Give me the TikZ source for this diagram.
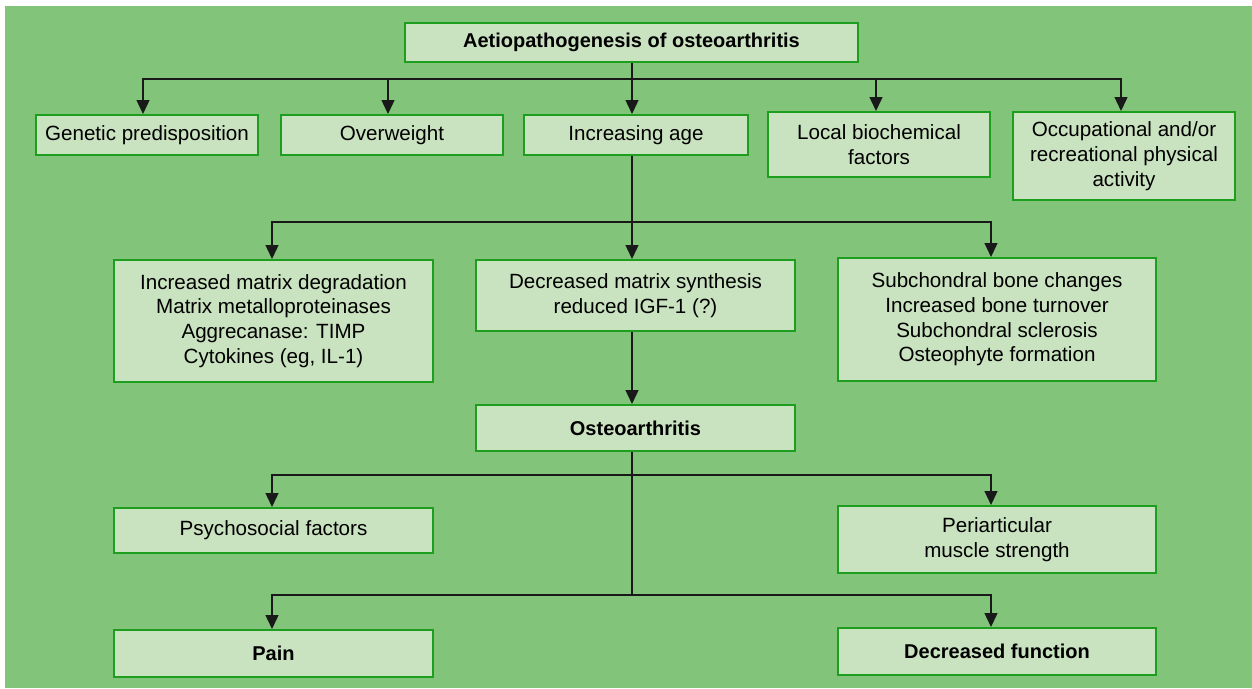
\documentclass[tikz,border=0pt]{standalone}
\usepackage{fontspec}
\setmainfont{Liberation Sans}
\usetikzlibrary{arrows.meta}
\definecolor{bggreen}{HTML}{82C47A}
\definecolor{boxfill}{HTML}{C9E2BF}
\definecolor{boxline}{HTML}{1E9E1E}
\tikzset{
  box/.style={draw=boxline, line width=2pt, fill=boxfill, inner sep=0pt,
    align=center, font=\fontsize{20.6}{24.7}\selectfont, text=black},
  btitle/.style={box, font=\fontsize{20}{24.7}\selectfont\bfseries},
  conn/.style={line width=1.4pt, black!90},
  arr/.style={conn, -{Triangle[width=13pt,length=14pt]}}
}
\begin{document}
\begin{tikzpicture}[x=1pt,y=-1pt]
\useasboundingbox (0,0) rectangle (1252,688);
\fill[white] (0,0) rectangle (1252,688);
\fill[bggreen] (5,6) rectangle (1252,688);
% boxes: center (x,y), width, height
\node[btitle, minimum width=453pt, minimum height=39pt] (title) at (631.5,42.5) {Aetiopathogenesis of osteoarthritis};
\node[box, minimum width=222pt, minimum height=40pt] (gen) at (147,135) {Genetic predisposition};
\node[box, minimum width=222pt, minimum height=40pt] (ovw) at (392,135) {Overweight};
\node[box, minimum width=224pt, minimum height=40pt] (age) at (636,135) {Increasing age};
\node[box, minimum width=222pt, minimum height=65pt] (loc) at (879,144.5) {Local biochemical\\factors};
\node[box, minimum width=222pt, minimum height=88pt] (occ) at (1124,156) {Occupational and/or\\recreational physical\\activity};
\node[box, minimum width=319pt, minimum height=122pt] (deg) at (273.5,321) {Increased matrix degradation\\Matrix metalloproteinases\\Aggrecanase: TIMP\\Cytokines (eg, IL-1)};
\node[box, minimum width=319pt, minimum height=71pt] (syn) at (635.5,295.5) {Decreased matrix synthesis\\reduced IGF-1 (?)};
\node[box, minimum width=318pt, minimum height=123pt] (sub) at (997,319.5) {Subchondral bone changes\\Increased bone turnover\\Subchondral sclerosis\\Osteophyte formation};
\node[btitle, minimum width=319pt, minimum height=46pt] (oa) at (635.5,428) {Osteoarthritis};
\node[box, minimum width=319pt, minimum height=45pt] (psy) at (273.5,530.5) {Psychosocial factors};
\node[box, minimum width=318pt, minimum height=67pt] (per) at (997,539.5) {Periarticular\\muscle strength};
\node[btitle, minimum width=319pt, minimum height=47pt] (pain) at (273.5,653.5) {Pain};
\node[btitle, minimum width=318pt, minimum height=47pt] (fun) at (997,651.5) {Decreased function};
% junctions
\coordinate (j1) at (632,79);
\coordinate (j2) at (632,222);
\coordinate (j3) at (632,475);
\coordinate (j4) at (632,595);
% connectors
\draw[conn] (title.south -| j1) -- (j1);
\draw[arr] (j1) -| ([xshift=-4pt]gen.north);
\draw[arr] (j1) -| ([xshift=-4pt]ovw.north);
\draw[arr] (j1) -- (age.north -| j1);
\draw[arr] (j1) -| ([xshift=-3pt]loc.north);
\draw[arr] (j1) -| ([xshift=-3pt]occ.north);
\draw[conn] (age.south -| j2) -- (j2);
\draw[arr] (j2) -| ([xshift=-1.5pt]deg.north);
\draw[arr] (j2) -- (syn.north -| j2);
\draw[arr] (j2) -| ([xshift=-6pt]sub.north);
\draw[arr] (syn.south -| j2) -- (oa.north -| j2);
\draw[conn] (oa.south -| j3) -- (j4);
\draw[arr] (j3) -| ([xshift=-1.5pt]psy.north);
\draw[arr] (j3) -| ([xshift=-6pt]per.north);
\draw[arr] (j4) -| ([xshift=-1.5pt]pain.north);
\draw[arr] (j4) -| ([xshift=-6pt]fun.north);
\end{tikzpicture}
\end{document}
